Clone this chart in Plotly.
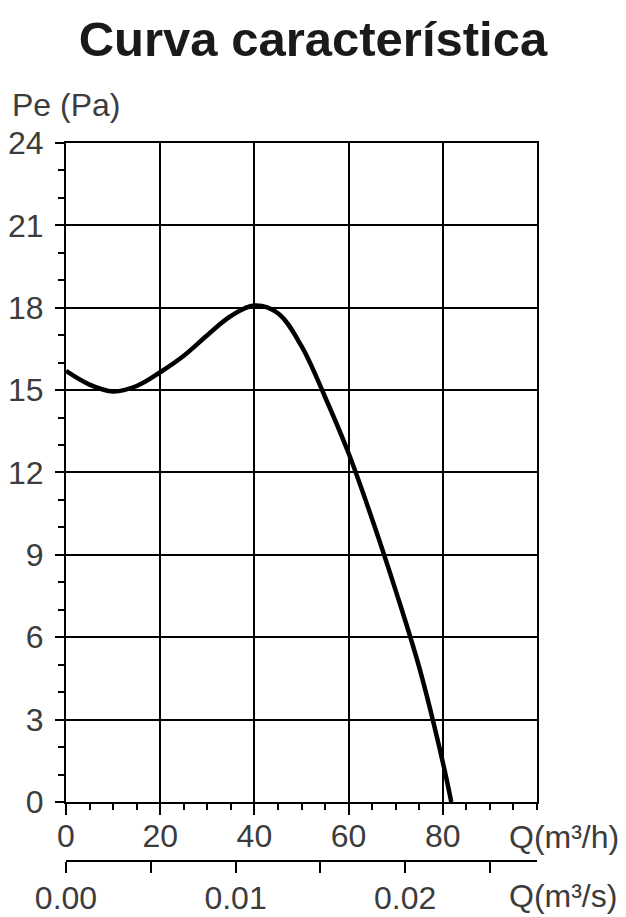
import plotly.graph_objects as go

# Data
q_m3h = [0, 5, 10, 15, 20, 25, 30, 35, 40, 45, 50, 55, 60, 65, 70, 75, 80, 81.8]
pe_pa = [15.7, 15.2, 14.95, 15.15, 15.65, 16.25, 17.0, 17.7, 18.08, 17.8, 16.6, 14.75, 12.7, 10.3, 7.7, 4.9, 1.45, 0.0]

x_ticks = [0, 20, 40, 60, 80]
y_ticks = [0, 3, 6, 9, 12, 15, 18, 21, 24]
x2_ticks = [0, 0.005, 0.01, 0.015, 0.02, 0.025]
x2_labels = ["0.00", "", "0.01", "", "0.02", ""]

FONT = "Liberation Sans, Arial, sans-serif"
GRAY = "#3c3c3c"
TS = 32

fig = go.Figure()
fig.add_trace(go.Scatter(
    x=q_m3h, y=pe_pa, mode="lines",
    line=dict(color="black", width=4.5, shape="spline", smoothing=1.0),
    xaxis="x", yaxis="y", showlegend=False, hoverinfo="skip"))
# empty trace to activate the secondary (m3/s) axis
fig.add_trace(go.Scatter(x=[], y=[], xaxis="x2", yaxis="y", showlegend=False))

fig.update_layout(
    width=618, height=909,
    paper_bgcolor="white", plot_bgcolor="white",
    margin=dict(l=58, r=89, t=135, b=56, autoexpand=False),
    font=dict(family=FONT, color=GRAY, size=TS),
    title=dict(text="<b>Curva característica</b>", x=0.4935, xanchor="center",
               y=1 - 31 / 909, yanchor="middle", automargin=False,
               font=dict(family=FONT, size=49, color="#1a1a1a")),
    xaxis=dict(range=[0, 100], tickvals=x_ticks, anchor="y", automargin=False,
               showgrid=True, gridcolor="black", gridwidth=2,
               showline=True, linecolor="black", linewidth=2, mirror=True,
               ticks="outside", ticklen=11, tickwidth=2, tickcolor="black",
               ticklabelstandoff=-6,
               minor=dict(dtick=5, ticklen=6, tickwidth=2, tickcolor="black",
                          ticks="outside", showgrid=False),
               zeroline=False, tickfont=dict(size=TS, color=GRAY)),
    xaxis2=dict(range=[0, 100 / 3600], overlaying="x", anchor="free", position=0,
                side="bottom", tickvals=x2_ticks, ticktext=x2_labels, automargin=False,
                showgrid=False, showline=True, linecolor="black", linewidth=2,
                ticks="outside", ticklen=11, tickwidth=2, tickcolor="black",
                ticklabelstandoff=-2,
                zeroline=False, tickfont=dict(size=TS, color=GRAY)),
    yaxis=dict(range=[0, 24], tickvals=y_ticks, domain=[0.0822, 1], automargin=False,
               showgrid=True, gridcolor="black", gridwidth=2,
               showline=True, linecolor="black", linewidth=2, mirror=True,
               ticks="outside", ticklen=9, tickwidth=2, tickcolor="black",
               ticklabelstandoff=5,
               minor=dict(dtick=1, ticklen=6, tickwidth=2, tickcolor="black",
                          ticks="outside", showgrid=False),
               zeroline=False, tickfont=dict(size=TS, color=GRAY)),
    annotations=[
        dict(text="Pe (Pa)", xref="paper", yref="paper", x=-0.119, y=1.053,
             xanchor="left", yanchor="middle", showarrow=False,
             font=dict(size=TS, color=GRAY)),
        dict(text="Q(m³/h)", xref="paper", yref="paper", x=0.936, y=0.033,
             xanchor="left", yanchor="middle", showarrow=False,
             font=dict(size=TS, color=GRAY)),
        dict(text="Q(m³/s)", xref="paper", yref="paper", x=0.936, y=-0.049,
             xanchor="left", yanchor="middle", showarrow=False,
             font=dict(size=TS, color=GRAY)),
    ],
)

fig.write_html("out.html")
